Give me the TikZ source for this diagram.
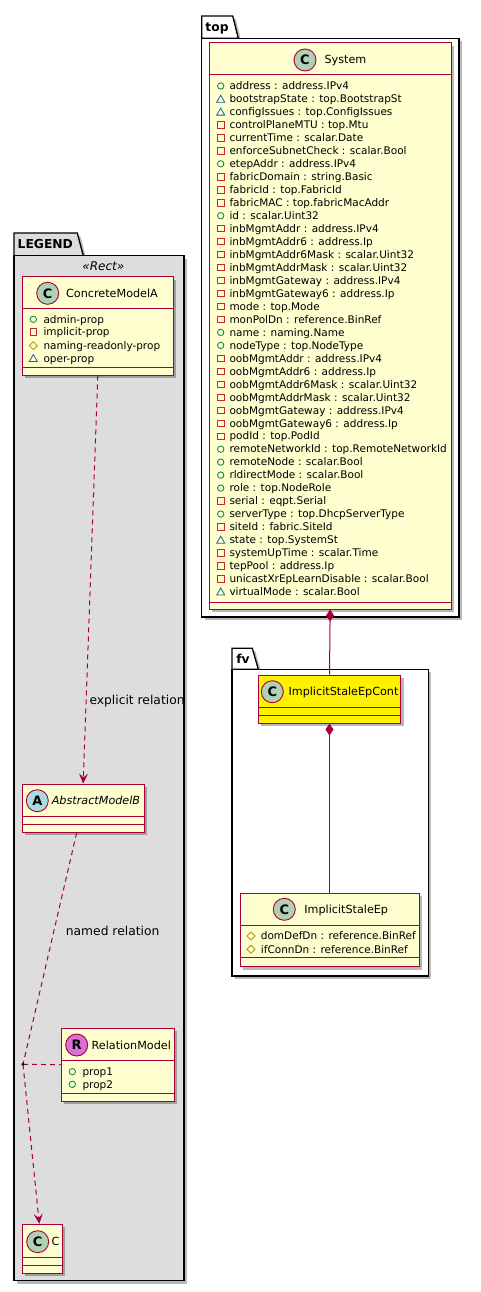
\documentclass[tikz,border=0pt]{standalone}
\usepackage{fontspec}
\setmainfont{DejaVu Sans}
\usetikzlibrary{arrows.meta,shadows}
\definecolor{cborder}{HTML}{A80036}
\definecolor{cfill}{HTML}{FEFECE}
\definecolor{spotc}{HTML}{ADD1B2}
\definecolor{spota}{HTML}{A9DCDF}
\definecolor{spotr}{HTML}{DA70D6}
\definecolor{legfill}{HTML}{DDDDDD}
\definecolor{ipub}{HTML}{038048}
\definecolor{ipriv}{HTML}{C82930}
\definecolor{iprot}{HTML}{B38D22}
\definecolor{ipkg}{HTML}{1963A0}
\newcommand\umlbox[6]{%
  \node[#2, minimum width={(#5)-(#3)}, minimum height={(#6)-(#4)}] (#1) at ({((#3)+(#5))/2},{((#4)+(#6))/2}) {};}
\tikzset{
  shad/.style={drop shadow={shadow xshift=3pt, shadow yshift=-3pt, opacity=0.28, fill=black}},
  classbox/.style={rectangle, draw=cborder, fill=cfill, line width=1pt, inner sep=0, shad},
  pkgbody/.style={rectangle, draw=black, line width=1.3pt, inner sep=0, shad},
  pkgtab/.style={draw=black, line width=1.3pt, shad},
  sepline/.style={draw=cborder, line width=1pt},
  spot/.style={circle, draw=cborder, line width=0.9pt, minimum size=22pt, inner sep=0, font=\fontsize{13}{13}\selectfont\bfseries},
  hdr/.style={inner sep=0, font=\fontsize{11.2}{13}\selectfont, text height=8pt, text depth=0pt},
  attr/.style={inner sep=0, anchor=west, font=\fontsize{10.5}{12}\selectfont, text height=7.6pt, text depth=0pt},
  pkglbl/.style={inner sep=0, font=\fontsize{12.3}{14}\selectfont\bfseries, text height=9pt, text depth=0pt},
  lbl/.style={inner sep=0, anchor=west, font=\fontsize{12.3}{14}\selectfont, text height=9pt, text depth=0pt},
  rel/.style={draw=cborder, color=cborder, line width=1pt, dash pattern=on 5pt off 4pt},
  relarrow/.style={rel, -{Stealth[length=10pt, width=9pt, inset=4pt]}},
  comp/.style={draw=cborder, color=cborder, line width=1pt, {Diamond[length=12pt, width=8pt, fill=cborder]}-},
  pics/vpub/.style={code={\draw[ipub, line width=0.8pt] (0,0) circle (3.2pt);}},
  pics/vpriv/.style={code={\draw[ipriv, line width=0.8pt] (-3.2,-3.2) rectangle (3.2,3.2);}},
  pics/vprot/.style={code={\draw[iprot, line width=0.8pt] (0,-4) -- (4,0) -- (0,4) -- (-4,0) -- cycle;}},
  pics/vpkg/.style={code={\draw[ipkg, line width=0.8pt] (0,-3.8) -- (4,3.2) -- (-4,3.2) -- cycle;}},
}
\begin{document}
\begin{tikzpicture}[x=1pt, y=-1pt]
\useasboundingbox[fill=white] (0,0) rectangle (480,1292);

% ---------------- package top ----------------
\path[pkgtab, fill=white] (201.7,38.3) -- (201.7,16) -- (232.7,16) -- (238.3,38.3) -- cycle;
\umlbox{ptop}{pkgbody, fill=white}{201.7}{38.3}{459}{617}
\node[pkglbl] (ptoplbl) at (217,27) {top};

% System class
\umlbox{sys}{classbox}{209.3}{43}{451}{609}
\draw[sepline] (209.3,75) -- (451,75);
\draw[sepline] (209.3,602) -- (451,602);
\node[spot, fill=spotc] (sysspot) at (305,60) {C};
\node[hdr] (systitle) at (345.5,60) {System};
\foreach \v/\t [count=\i from 0] in {
 pub/{address : address.IPv4},
 pkg/{bootstrapState : top.BootstrapSt},
 pkg/{configIssues : top.ConfigIssues},
 priv/{controlPlaneMTU : top.Mtu},
 priv/{currentTime : scalar.Date},
 priv/{enforceSubnetCheck : scalar.Bool},
 pub/{etepAddr : address.IPv4},
 priv/{fabricDomain : string.Basic},
 priv/{fabricId : top.FabricId},
 priv/{fabricMAC : top.fabricMacAddr},
 pub/{id : scalar.Uint32},
 priv/{inbMgmtAddr : address.IPv4},
 priv/{inbMgmtAddr6 : address.Ip},
 priv/{inbMgmtAddr6Mask : scalar.Uint32},
 priv/{inbMgmtAddrMask : scalar.Uint32},
 priv/{inbMgmtGateway : address.IPv4},
 priv/{inbMgmtGateway6 : address.Ip},
 priv/{mode : top.Mode},
 priv/{monPolDn : reference.BinRef},
 pub/{name : naming.Name},
 pub/{nodeType : top.NodeType},
 priv/{oobMgmtAddr : address.IPv4},
 priv/{oobMgmtAddr6 : address.Ip},
 priv/{oobMgmtAddr6Mask : scalar.Uint32},
 priv/{oobMgmtAddrMask : scalar.Uint32},
 priv/{oobMgmtGateway : address.IPv4},
 priv/{oobMgmtGateway6 : address.Ip},
 priv/{podId : top.PodId},
 pub/{remoteNetworkId : top.RemoteNetworkId},
 pub/{remoteNode : scalar.Bool},
 pub/{rldirectMode : scalar.Bool},
 pub/{role : top.NodeRole},
 priv/{serial : eqpt.Serial},
 pub/{serverType : top.DhcpServerType},
 priv/{siteId : fabric.SiteId},
 pkg/{state : top.SystemSt},
 priv/{systemUpTime : scalar.Time},
 priv/{tepPool : address.Ip},
 priv/{unicastXrEpLearnDisable : scalar.Bool},
 pkg/{virtualMode : scalar.Bool}}{
  \pgfmathsetmacro\yy{86+12.97*\i}
  \pic at (220.7,\yy) {v\v};
  \node[attr] (sysa\i) at (229.3,\yy) {\t};
}

% ---------------- package fv ----------------
\path[pkgtab, fill=white] (232,669.3) -- (232,648.3) -- (252.3,648.3) -- (258.3,669.3) -- cycle;
\umlbox{pfv}{pkgbody, fill=white}{232}{669.3}{428.3}{976}
\node[pkglbl] (pfvlbl) at (243,659) {fv};

\umlbox{cont}{classbox, fill=yellow}{258.3}{675}{400.7}{723}
\draw[sepline] (258.3,707.7) -- (400.7,707.7);
\draw[sepline] (258.3,715.7) -- (400.7,715.7);
\node[spot, fill=spotc] (contspot) at (272.3,691.7) {C};
\node[hdr] (conttitle) at (343.5,691.7) {ImplicitStaleEpCont};

\umlbox{isep}{classbox}{240}{893}{419}{966.7}
\draw[sepline] (240,925) -- (419,925);
\draw[sepline] (240,957.7) -- (419,957.7);
\node[spot, fill=spotc] (isepspot) at (284.3,909.3) {C};
\node[hdr] (iseptitle) at (346.2,909.3) {ImplicitStaleEp};
\pic at (251,936) {vprot};
\node[attr] (isepa1) at (260.7,936) {domDefDn : reference.BinRef};
\pic at (251,949.3) {vprot};
\node[attr] (isepa2) at (260.7,949.3) {ifConnDn : reference.BinRef};

\draw[comp] (sys.south) -- (cont.north);
\draw[comp] (cont.south) -- (isep.north);

% ---------------- package LEGEND ----------------
\path[pkgtab, fill=legfill] (14,255.7) -- (14,233) -- (77.3,233) -- (83.3,255.7) -- cycle;
\umlbox{pleg}{pkgbody, fill=legfill}{14}{255.7}{184}{1280.7}
\node[pkglbl] (pleglbl) at (45.3,244) {LEGEND};
\node[hdr, font=\fontsize{12}{14}\selectfont\itshape] (stereo) at (103.3,266) {«Rect»};

\umlbox{conc}{classbox}{22.3}{276.7}{173.3}{375}
\draw[sepline] (22.3,308.3) -- (173.3,308.3);
\draw[sepline] (22.3,367.3) -- (173.3,367.3);
\node[spot, fill=spotc] (concspot) at (47.7,293.3) {C};
\node[hdr] (conctitle) at (112,293.3) {ConcreteModelA};
\pic at (33.3,319.3) {vpub};
\node[attr] (conca1) at (43.3,319.3) {admin-prop};
\pic at (33.3,332) {vpriv};
\node[attr] (conca2) at (43.3,332) {implicit-prop};
\pic at (33.3,345.7) {vprot};
\node[attr] (conca3) at (43.3,345.7) {naming-readonly-prop};
\pic at (33.3,358.3) {vpkg};
\node[attr] (conca4) at (43.3,358.3) {oper-prop};

\umlbox{absb}{classbox}{22.3}{784}{144}{832.3}
\draw[sepline] (22.3,816.7) -- (144,816.7);
\draw[sepline] (22.3,824.3) -- (144,824.3);
\node[spot, fill=spota] (absbspot) at (37.3,800.7) {A};
\node[hdr, font=\fontsize{11.2}{13}\selectfont\itshape] (absbtitle) at (96,800.7) {AbstractModelB};

\umlbox{relm}{classbox}{61}{1028.3}{174}{1101}
\draw[sepline] (61,1060.7) -- (174,1060.7);
\draw[sepline] (61,1093.3) -- (174,1093.3);
\node[spot, fill=spotr] (relmspot) at (76.7,1045) {R};
\node[hdr] (relmtitle) at (131.3,1045) {RelationModel};
\pic at (72.3,1071.7) {vpub};
\node[attr] (relma1) at (82.3,1071.7) {prop1};
\pic at (72.3,1084.3) {vpub};
\node[attr] (relma2) at (82.3,1084.3) {prop2};

\umlbox{cc}{classbox}{22.3}{1224.3}{62.3}{1273}
\draw[sepline] (22.3,1257.3) -- (62.3,1257.3);
\draw[sepline] (22.3,1265.7) -- (62.3,1265.7);
\node[spot, fill=spotc] (ccspot) at (37.7,1241.7) {C};
\node[hdr] (cctitle) at (55.5,1241.7) {C};

% relations
\draw[relarrow] (conc.south) -- (absb.north);
\node[lbl] (lblexp) at (89.3,700) {explicit relation};

\coordinate (rdot) at (23,1064.3);
\draw[rel] ([xshift=-6.5pt]absb.south) -- (rdot);
\draw[relarrow] (rdot) -- ([xshift=-3pt]cc.north);
\draw[rel] (rdot) -- (relm.west);
\fill[black] (rdot) circle (1.6pt);
\node[lbl] (lblnamed) at (65.7,930.7) {named relation};
\end{tikzpicture}
\end{document}
